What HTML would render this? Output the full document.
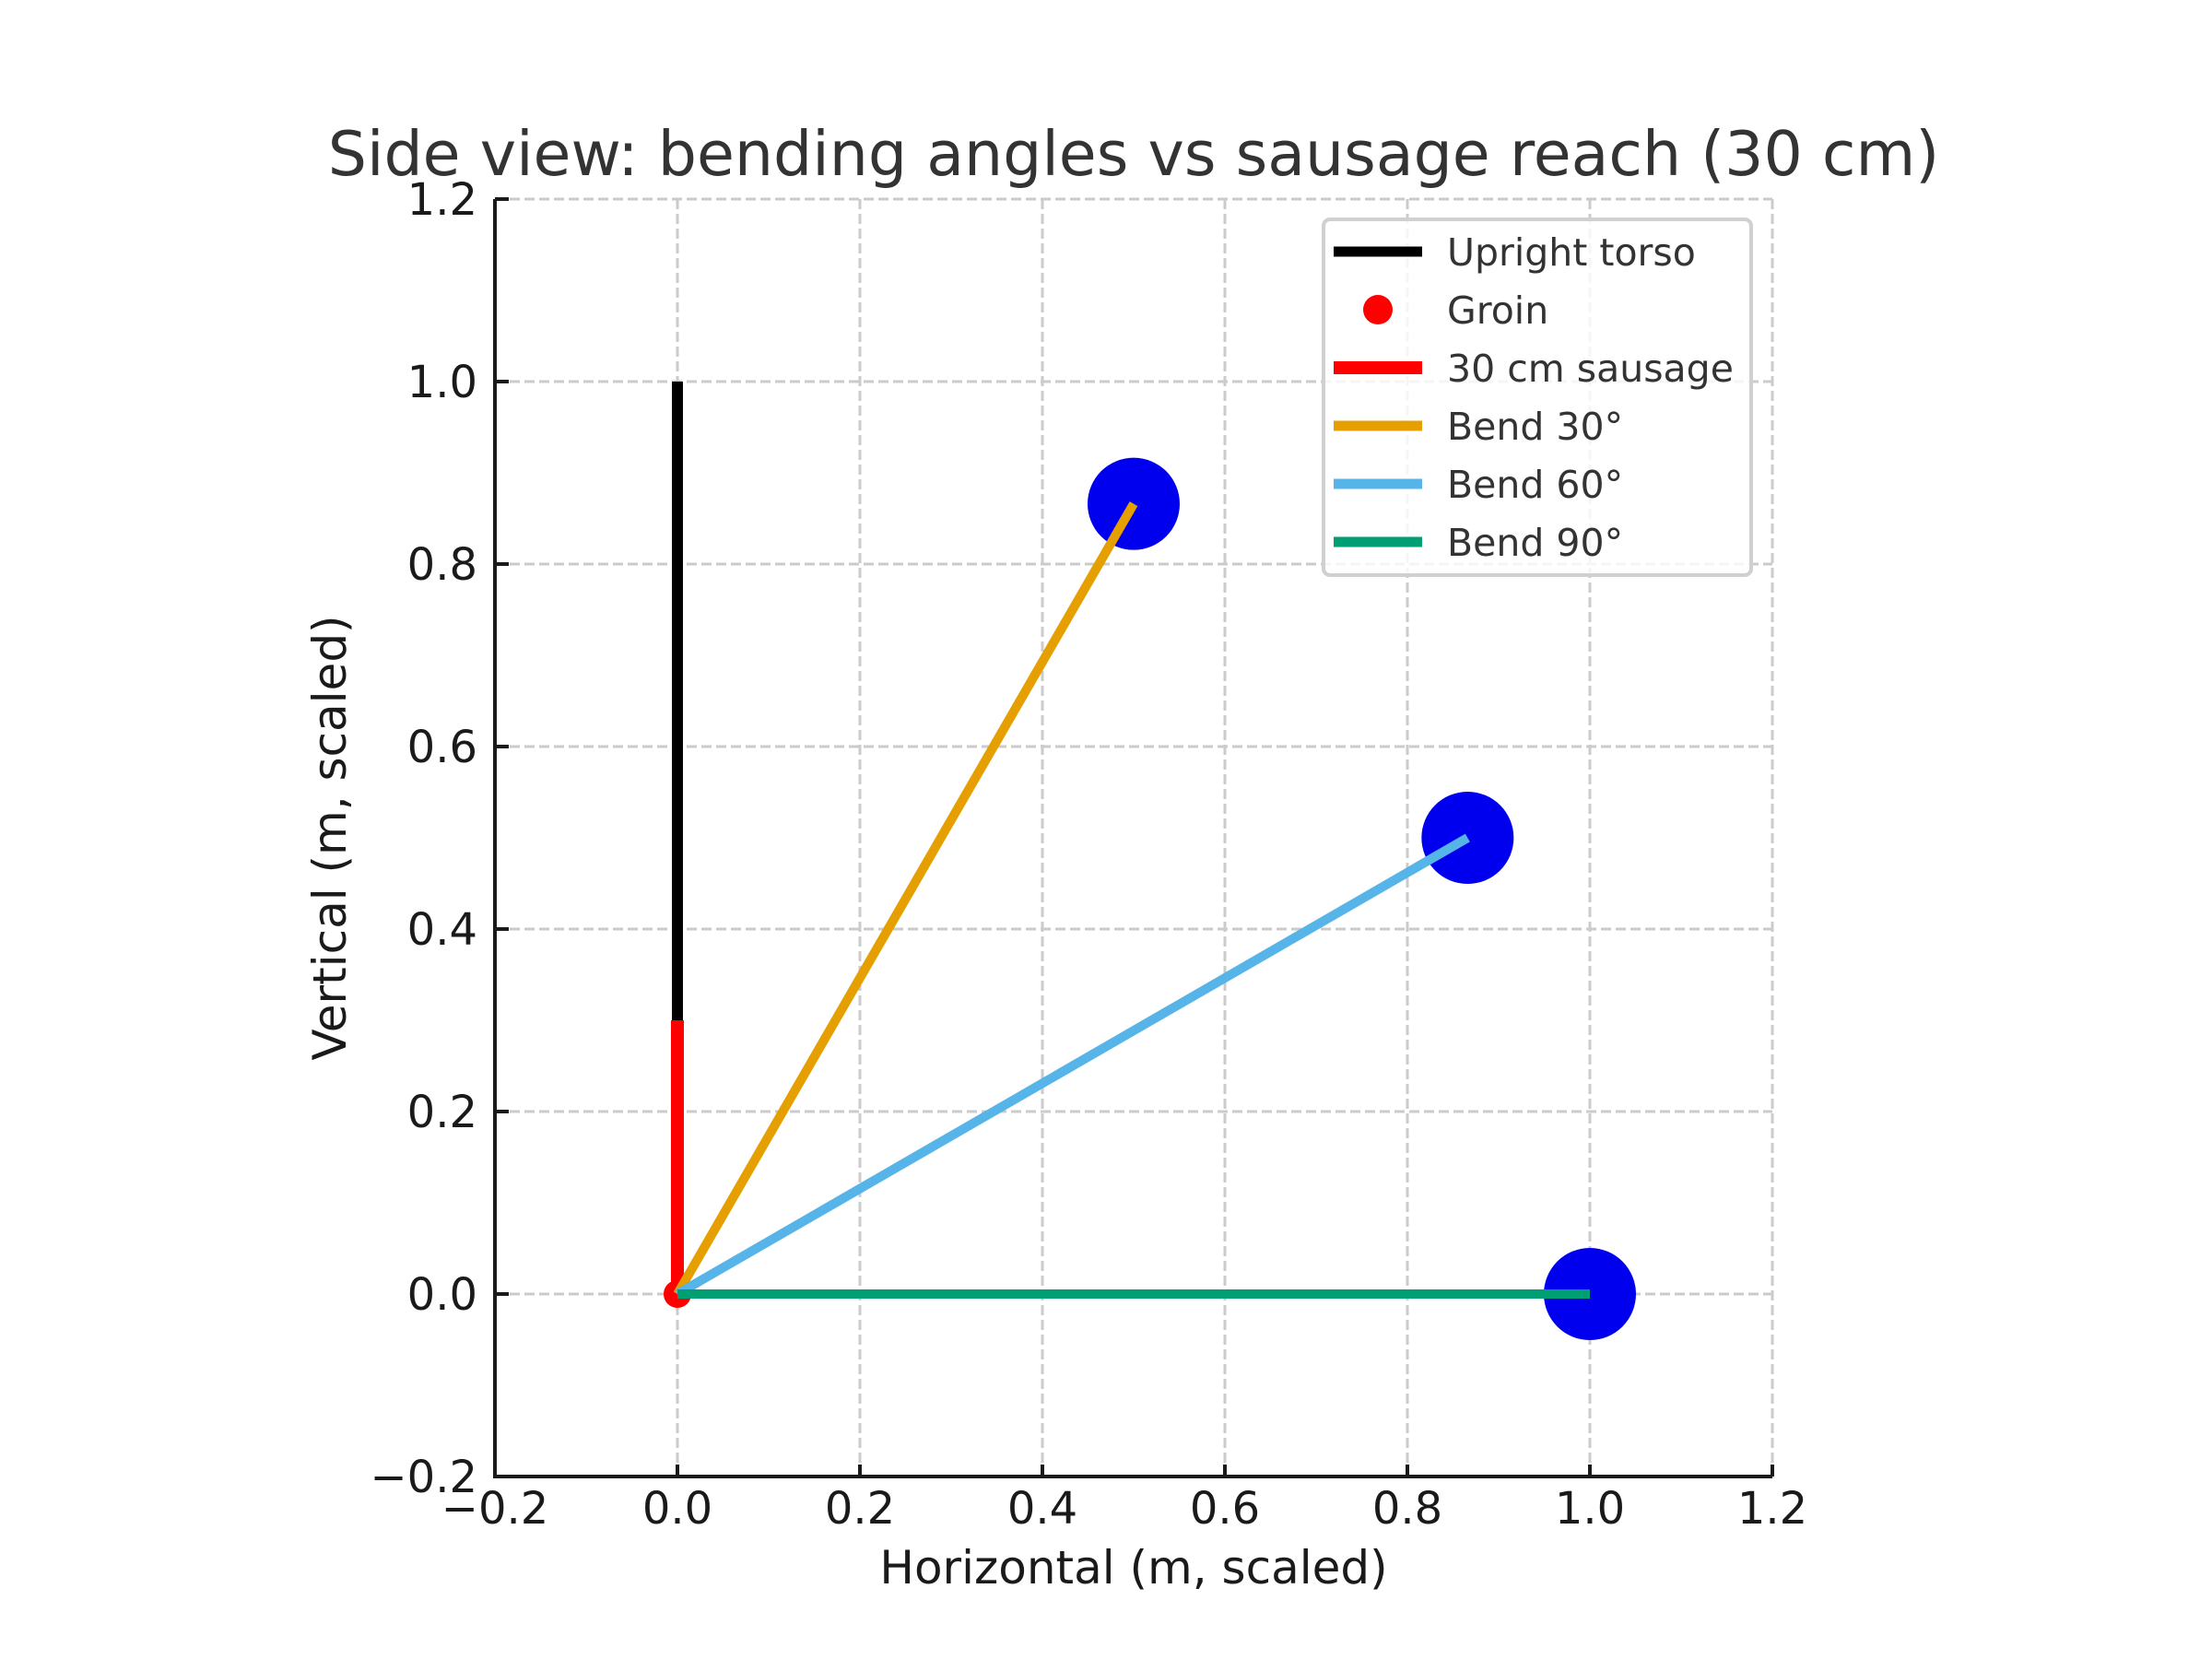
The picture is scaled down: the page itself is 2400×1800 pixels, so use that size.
<!DOCTYPE html>
<html><head><meta charset="utf-8"><style>
html,body{margin:0;padding:0;background:#fff;}
svg{display:block;font-family:"DejaVu Sans","Liberation Sans",sans-serif;}
</style></head><body>
<svg id="chart" width="2400" height="1800" viewBox="0 0 2400 1800">
<rect width="2400" height="1800" fill="#fff"/>
<g id="grid"></g>
<g id="marks"></g>
<g id="axes"></g>
<text x="1230" y="190" text-anchor="middle" font-size="66.5" fill="#333">Side view: bending angles vs sausage reach (30 cm)</text>
<text x="1230" y="1718" text-anchor="middle" font-size="50" fill="#1a1a1a">Horizontal (m, scaled)</text>
<text x="0" y="0" transform="translate(375,909) rotate(-90)" text-anchor="middle" font-size="50" fill="#1a1a1a">Vertical (m, scaled)</text>
<g id="legend"></g>
</svg>
<script>
const xTicks=[-0.2,0,0.2,0.4,0.6,0.8,1.0,1.2];
const yTicks=[-0.2,0,0.2,0.4,0.6,0.8,1.0,1.2];
const tickLabels=["\u22120.2","0.0","0.2","0.4","0.6","0.8","1.0","1.2"];
const torso=[[0,0],[0,1]];
const sausage=[[0,0],[0,0.3]];
const groin=[0,0];
const bendAngles=[30,60,90];
const bendX=[0.5,0.866,1.0];
const bendY=[0.866,0.5,0.0];
const bendColors=["#E69F00","#56B4E9","#009E73"];

const L=537,R=1923,T=216,B=1602;
const X=v=>L+(v+0.2)/1.4*(R-L);
const Y=v=>B-(v+0.2)/1.4*(B-T);
const NS="http://www.w3.org/2000/svg";
function mk(tag,attrs,parent){const e=document.createElementNS(NS,tag);for(const k in attrs)e.setAttribute(k,attrs[k]);parent.appendChild(e);return e;}
const grid=document.getElementById('grid'),marks=document.getElementById('marks'),axes=document.getElementById('axes'),leg=document.getElementById('legend');

xTicks.forEach((v,i)=>{
  const g=mk('line',{x1:X(v),x2:X(v),y1:T,y2:B,stroke:'#cbcbcb','stroke-width':3,'stroke-dasharray':'11,5'},grid);
  
  
  const t=mk('line',{x1:X(v),x2:X(v),y1:B,y2:B-13,stroke:'#1a1a1a','stroke-width':4},axes);
  
  
  const lb=mk('text',{x:X(v),y:1653,'text-anchor':'middle','font-size':48,fill:'#1a1a1a'},axes);
  lb.textContent=tickLabels[i];
  
  
});
yTicks.forEach((v,i)=>{
  const g=mk('line',{x1:L,x2:R,y1:Y(v),y2:Y(v),stroke:'#cbcbcb','stroke-width':3,'stroke-dasharray':'11,5'},grid);
  
  
  const t=mk('line',{x1:L,x2:L+15,y1:Y(v),y2:Y(v),stroke:'#1a1a1a','stroke-width':4},axes);
  
  
  const lb=mk('text',{x:518,y:Y(v)+17,'text-anchor':'end','font-size':48,fill:'#1a1a1a'},axes);
  lb.textContent=tickLabels[i];
  
  
});
const sp=mk('path',{d:`M${L},${T} L${L},${B} L${R},${B}`,fill:'none',stroke:'#1a1a1a','stroke-width':4},axes);



bendX.forEach((bx,i)=>{
  const c=mk('circle',{cx:X(bx),cy:Y(bendY[i]),r:50,fill:'#0000ee'},marks);
  
  
});
const tl=mk('line',{x1:X(torso[0][0]),y1:Y(torso[0][1]),x2:X(torso[1][0]),y2:Y(torso[1][1]),stroke:'#000','stroke-width':12},marks);


const gd=mk('circle',{cx:X(groin[0]),cy:Y(groin[1]),r:15,fill:'#ff0000'},marks);


const sl=mk('line',{x1:X(sausage[0][0]),y1:Y(sausage[0][1]),x2:X(sausage[1][0]),y2:Y(sausage[1][1]),stroke:'#ff0000','stroke-width':14},marks);


bendX.forEach((bx,i)=>{
  const l=mk('line',{x1:X(0),y1:Y(0),x2:X(bx),y2:Y(bendY[i]),stroke:bendColors[i],'stroke-width':10},marks);
  
  
});

const box=mk('rect',{x:1436,y:238,width:464,height:386,rx:7,fill:'#fff','fill-opacity':0.8,stroke:'#d0d0d0','stroke-width':4},leg);


const entries=[["Upright torso","#000","line",11],["Groin","#ff0000","dot",0],["30 cm sausage","#ff0000","line",14],["Bend 30°","#E69F00","line",11],["Bend 60°","#56B4E9","line",11],["Bend 90°","#009E73","line",11]];
entries.forEach((e,i)=>{
  const y=273+i*63;
  let h;
  if(e[2]==='line'){h=mk('line',{x1:1447,x2:1543,y1:y,y2:y,stroke:e[1],'stroke-width':e[3]},leg);}
  else{h=mk('circle',{cx:1495,cy:y,r:16,fill:e[1]},leg);}
  
  
  const t=mk('text',{x:1570,y:y+15,'font-size':41,fill:'#333'},leg);
  t.textContent=e[0];
  
  
});
</script>
</body></html>
